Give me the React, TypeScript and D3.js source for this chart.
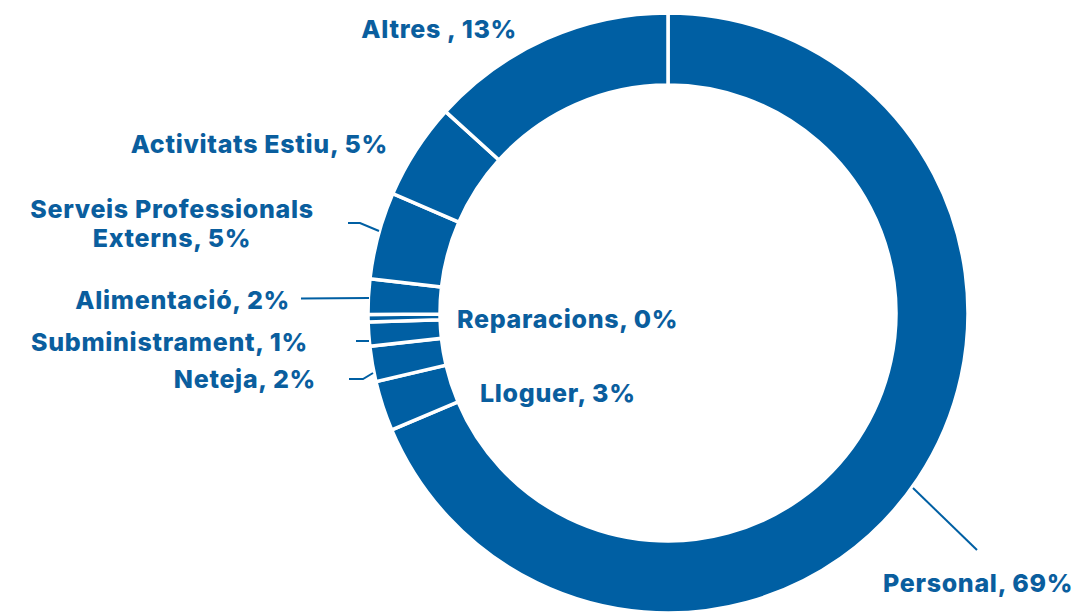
import React from 'react';
import * as d3 from 'd3';

// Spending breakdown (%), clockwise from 12 o'clock
const categories = [
  'Personal',
  'Lloguer',
  'Neteja',
  'Subministrament',
  'Reparacions',
  'Alimentació',
  'Serveis Professionals Externs',
  'Activitats Estiu',
  'Altres ',
];
const values = [68.7, 2.7, 1.9, 1.3, 0.4, 1.9, 4.7, 5.2, 13.3];

// label placement (hand tuned like the original layout), leader = polyline from ring to label
const labelLayout: Record<string, { x: number; y: number; anchor: string; lines?: string[]; leader?: [number, number][] }> = {
  'Personal': { x: 883, y: 592, anchor: 'start', leader: [[913, 488], [977, 550]] },
  'Lloguer': { x: 480, y: 402, anchor: 'start' },
  'Neteja': { x: 316, y: 388, anchor: 'end', leader: [[373, 373], [363, 379], [349, 379]] },
  'Subministrament': { x: 308, y: 351, anchor: 'end', leader: [[369, 341], [356, 341]] },
  'Reparacions': { x: 457, y: 328, anchor: 'start' },
  'Alimentació': { x: 290, y: 309, anchor: 'end', leader: [[369, 298], [301, 298.5]] },
  'Serveis Professionals Externs': {
    x: 172, y: 218, anchor: 'middle',
    lines: ['Serveis Professionals', 'Externs, {p}'],
    leader: [[379, 231], [360, 223], [348, 223]],
  },
  'Activitats Estiu': { x: 388, y: 153, anchor: 'end' },
  'Altres ': { x: 517, y: 38, anchor: 'end' },
};

const W = 1078;
const H = 613;
const cx = 668;
const cy = 313;
const outerR = 300;
const innerR = 228;
const blue = '#005FA3';
const textBlue = '#0A5E9E';

export default function App() {
  const pie = d3.pie<number>().sort(null).value((d) => d);
  const arcs = pie(values);
  const arc = d3.arc<d3.PieArcDatum<number>>().innerRadius(innerR).outerRadius(outerR);

  return (
    <div style={{ position: 'absolute', left: 0, top: 0 }}>
      <svg width={W} height={H} style={{ display: 'block', background: '#fff' }}>
        <g transform={`translate(${cx},${cy})`}>
          {arcs.map((a, i) => (
            <path key={categories[i]} d={arc(a) || ''} fill={blue} stroke="#fff" strokeWidth={3.5} />
          ))}
        </g>
        {arcs.map((a, i) => {
          const cat = categories[i];
          const lay = labelLayout[cat];
          const pct = `${Math.round(values[i])}%`;
          const lines = lay.lines ? lay.lines.map((l) => l.replace('{p}', pct)) : [`${cat}, ${pct}`];
          const leaderPath = lay.leader ? d3.line()(lay.leader) : null;
          return (
            <g key={cat}>
              {leaderPath && <path d={leaderPath} fill="none" stroke={blue} strokeWidth={2} />}
              <text
                x={lay.x}
                y={lay.y}
                textAnchor={lay.anchor}
                fill={textBlue}
                fontFamily="Inter, 'Open Sans', sans-serif"
                fontWeight={800}
                fontSize={25}
                letterSpacing={0.7}
              >
                {lines.map((l, k) => (
                  <tspan key={k} x={lay.x} dy={k === 0 ? 0 : 29}>{l}</tspan>
                ))}
              </text>
            </g>
          );
        })}
      </svg>
    </div>
  );
}
